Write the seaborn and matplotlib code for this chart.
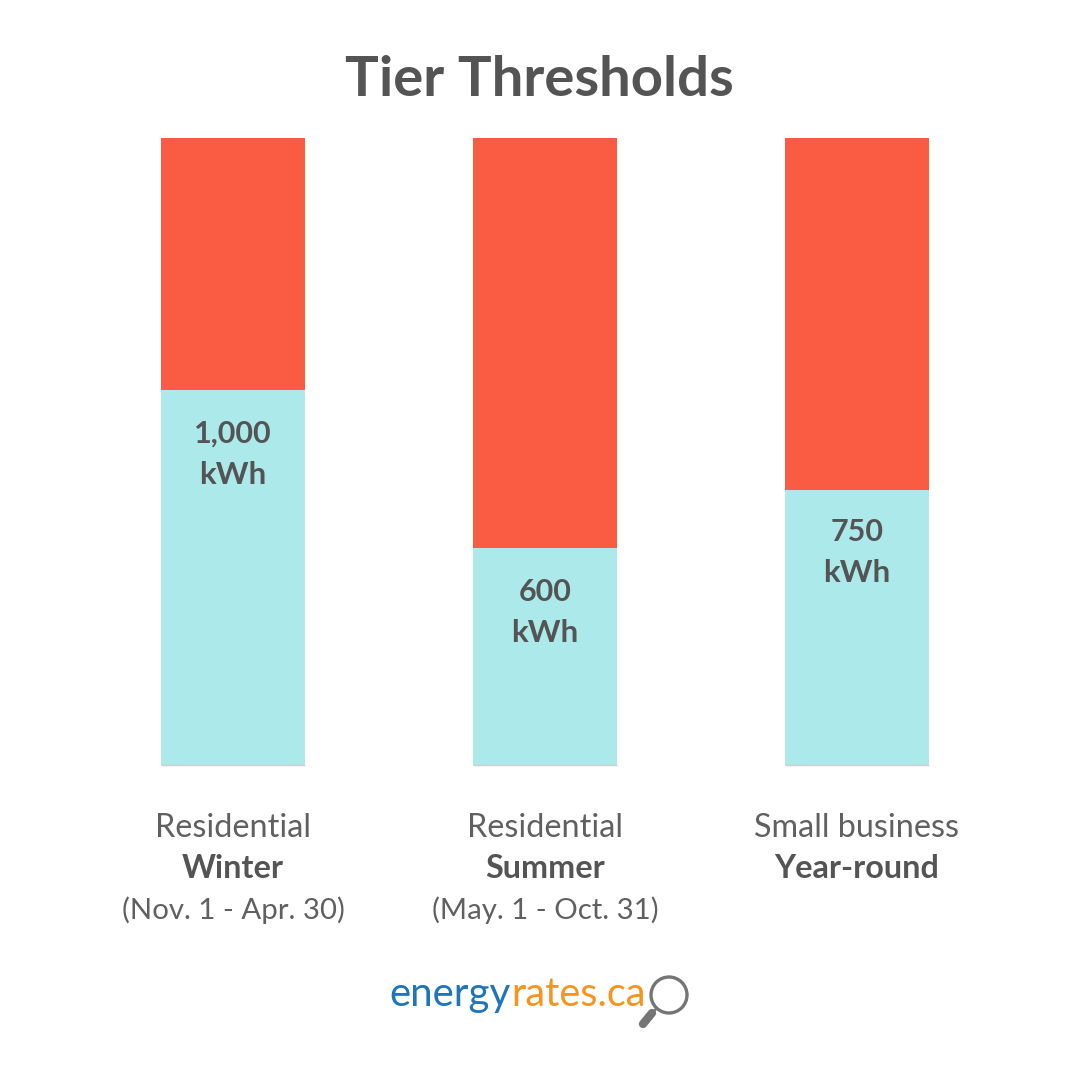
import matplotlib
matplotlib.use("Agg")
import matplotlib.pyplot as plt
from matplotlib.patches import Circle
import seaborn as sns
import pandas as pd

# Data: bars are drawn as share of the full column
segments = ["Residential Winter", "Residential Summer", "Small business"]
tier1_share = [59.8, 34.6, 43.9]
total_share = [100, 100, 100]
value_labels = ["1,000", "600", "750"]
unit_label = "kWh"
line1 = ["Residential", "Residential", "Small business"]
line2 = ["Winter", "Summer", "Year-round"]
line3 = ["(Nov. 1 - Apr. 30)", "(May. 1 - Oct. 31)", ""]
title = "Tier Thresholds"

RED = "#FA5C43"
AQUA = "#ACE9EB"
INK = "#545454"
FONT = "Lato"

sns.set_theme(style="white")
plt.rcParams["font.family"] = [FONT, "DejaVu Sans"]

W = H = 1080
fig = plt.figure(figsize=(W / 100, H / 100), dpi=100, facecolor="white")
ax = fig.add_axes([77 / W, 1 - 765 / H, 936 / W, 627 / H])
df = pd.DataFrame({"segment": segments, "total": total_share, "tier1": tier1_share})
bw = 144 / 312
sns.barplot(data=df, x="segment", y="total", color=RED, width=bw, saturation=1, linewidth=0, ax=ax)
sns.barplot(data=df, x="segment", y="tier1", color=AQUA, width=bw, saturation=1, linewidth=0, ax=ax)
ax.set_xlim(-0.5, 2.5)
ax.set_ylim(0, 100)
ax.axis("off")
ax.hlines([0, 0, 0], [i - bw / 2 for i in range(3)], [i + bw / 2 for i in range(3)],
          color="#CFCFCF", lw=1, clip_on=False)

# Overlay in pixel coordinates for annotation text and logo
ov = fig.add_axes([0, 0, 1, 1])
ov.set_xlim(0, W)
ov.set_ylim(H, 0)
ov.axis("off")
ov.patch.set_alpha(0)

ov.text(539.5, 80, title, ha="center", va="center", fontsize=40.5, fontweight="bold", color=INK)

centers = [233, 545, 857]
val_y = [434, 592, 532]
for cx, vy, v in zip(centers, val_y, value_labels):
    ov.text(cx, vy, v, ha="center", va="center", fontsize=22, fontweight="bold", color=INK)
    ov.text(cx, vy + 41, unit_label, ha="center", va="center", fontsize=22.5, fontweight="bold", color=INK)

for cx, a, b, c in zip(centers, line1, line2, line3):
    ov.text(cx, 828, a, ha="center", va="center", fontsize=23.3, color="#606060")
    ov.text(cx, 869, b, ha="center", va="center", fontsize=23.3, fontweight="bold", color=INK)
    if c:
        ov.text(cx, 910, c, ha="center", va="center", fontsize=21.2, color="#606060")

# Logo
ov.text(511, 1006, "energy", ha="right", va="baseline", fontsize=29, color="#1F75BC")
ov.text(511, 1006, "rates.ca", ha="left", va="baseline", fontsize=28.5, color="#F7941E")
GREY = "#757575"
ov.add_patch(Circle((669, 995), 18, fill=False, ec=GREY, lw=2.4))
ov.plot([656, 650], [1009, 1015], color=GREY, lw=1.8, solid_capstyle="butt")
ov.plot([652, 643], [1013, 1024], color=GREY, lw=6, solid_capstyle="round")

fig.savefig("out.png", dpi=100, facecolor="white")
